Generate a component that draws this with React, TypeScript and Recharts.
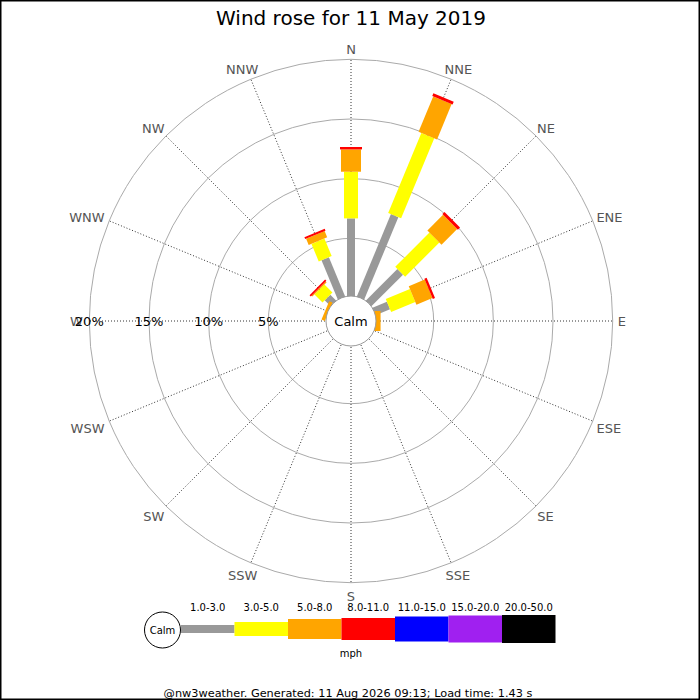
import { RadialBarChart, RadialBar, PolarAngleAxis, PolarRadiusAxis, PolarGrid } from 'recharts';

// wind directions, clockwise from north
const directions = ['N', 'NNE', 'NE', 'ENE', 'E', 'ESE', 'SE', 'SSE', 'S', 'SSW', 'SW', 'WSW', 'W', 'WNW', 'NW', 'NNW'];

// percent of the day in each speed band (mph), per direction
const band1to3 = [6.67, 7.63, 3.9, 1.47, 0, 0, 0, 0, 0, 0, 0, 0, 0, 0, 0.86, 3.72];
const band3to5 = [3.91, 7.26, 4.06, 2.19, 0, 0, 0, 0, 0, 0, 0, 0, 0, 0.1, 0.95, 1.59];
const band5to8 = [1.87, 3.2, 1.86, 1.45, 0.55, 0, 0, 0, 0, 0, 0, 0, 0, 0.3, 0.1, 0.57];
const band8to11 = [0.2, 0.25, 0.25, 0.2, 0, 0, 0, 0, 0, 0, 0, 0, 0, 0, 0.15, 0.17];

const speedBands = ['1.0-3.0', '3.0-5.0', '5.0-8.0', '8.0-11.0', '11.0-15.0', '15.0-20.0', '20.0-50.0'];
const percentTicks = [5, 10, 15, 20];

const bandColours = ['#999999', '#ffff00', '#ffa500', '#ff0000', '#0000ff', '#a020f0', '#000000'];
const bandWidths = [8, 14, 20, 22, 25, 27, 28];

const data = directions.map((dir, i) => ({
  dir,
  b1: band1to3[i],
  b2: band3to5[i],
  b3: band5to8[i],
  b4: band8to11[i],
}));

const CX = 351;
const CY = 321;
const FONT = '"DejaVu Sans", sans-serif';

// rough DejaVu Sans glyph widths (em) for the compass letters
const glyphEm: Record<string, number> = { N: 0.748, E: 0.632, S: 0.635, W: 0.989 };

// each stacked segment is drawn as a straight bar of fixed width.
// with no category gap the sector starts on the direction's tick angle
const barShape = (w: number) => (props: any) => {
  const { cx, cy, innerRadius, outerRadius, startAngle, fill } = props;
  if (!(outerRadius > innerRadius)) return <g />;
  const a = (startAngle * Math.PI) / 180;
  const ux = Math.cos(a);
  const uy = -Math.sin(a);
  const vx = -uy;
  const vy = ux;
  const h = w / 2;
  const pts = [
    [cx + ux * innerRadius + vx * h, cy + uy * innerRadius + vy * h],
    [cx + ux * outerRadius + vx * h, cy + uy * outerRadius + vy * h],
    [cx + ux * outerRadius - vx * h, cy + uy * outerRadius - vy * h],
    [cx + ux * innerRadius - vx * h, cy + uy * innerRadius - vy * h],
  ];
  return <polygon points={pts.map((p) => p.join(',')).join(' ')} fill={fill} />;
};

const DirTick = (props: any) => {
  const { x, y, payload } = props;
  const dx = x - CX;
  const dy = y - CY;
  const len = Math.sqrt(dx * dx + dy * dy) || 1;
  const label = String(payload.value);
  const w = label.split('').reduce((s, c) => s + (glyphEm[c] || 0.7) * 13, 0);
  const tx = x + (dx / len) * (w / 2 + (dx < -1 ? 1.5 : 0));
  const ty = y + (dy / len) * 5 + (dy > 1 ? 3.3 : 0);
  return (
    <text x={tx} y={ty + 4.5} textAnchor="middle" fontSize={13} fontFamily={FONT} fill="#555">
      {label}
    </text>
  );
};

const PctTick = (props: any) => {
  const { x, y, payload } = props;
  return (
    <text x={x} y={y + 5} textAnchor="middle" fontSize={13} fontFamily={FONT} fill="#000">
      {payload.value}%
    </text>
  );
};

export default function App() {
  const legendX = 181;
  const legendStep = 53.5;
  const legendY = 629;

  return (
    <div style={{ position: 'absolute', left: 0, top: 0, width: 700, height: 700, background: '#fff' }}>
      <RadialBarChart
        width={700}
        height={700}
        data={data}
        layout="centric"
        cx={CX}
        cy={CY}
        innerRadius={23}
        outerRadius={261.7}
        startAngle={90}
        endAngle={-270}
        margin={{ top: 0, right: 0, bottom: 0, left: 0 }}
        barCategoryGap={0}
      >
        <PolarGrid gridType="circle" radialLines={false} stroke="#aaaaaa" />
        <PolarGrid gridType="circle" polarRadius={[]} stroke="#333" strokeDasharray="1 2" />
        <PolarAngleAxis dataKey="dir" type="category" axisLine={false} tickLine={false} tickSize={5} tick={DirTick} />
        <PolarRadiusAxis
          type="number"
          angle={180}
          domain={[0, 20]}
          ticks={percentTicks}
          axisLine={false}
          tickLine={false}
          tick={PctTick}
        />
        <RadialBar dataKey="b1" stackId="a" fill={bandColours[0]} shape={barShape(bandWidths[0])} isAnimationActive={false} />
        <RadialBar dataKey="b2" stackId="a" fill={bandColours[1]} shape={barShape(bandWidths[1])} isAnimationActive={false} />
        <RadialBar dataKey="b3" stackId="a" fill={bandColours[2]} shape={barShape(bandWidths[2])} isAnimationActive={false} />
        <RadialBar dataKey="b4" stackId="a" fill={bandColours[3]} shape={barShape(bandWidths[3])} isAnimationActive={false} />
      </RadialBarChart>

      <svg width={700} height={700} style={{ position: 'absolute', left: 0, top: 0, pointerEvents: 'none' }}>
        <text x={351} y={25} textAnchor="middle" fontSize={20} fontFamily={FONT} fill="#000">
          Wind rose for 11 May 2019
        </text>

        <circle cx={CX} cy={CY} r={25} fill="#fff" stroke="#999" />
        <text x={CX} y={CY + 5} textAnchor="middle" fontSize={13} fontFamily={FONT} fill="#000">
          Calm
        </text>

        {speedBands.map((label, i) => (
          <g key={label}>
            <rect
              x={legendX + i * legendStep}
              y={legendY - bandWidths[i] / 2}
              width={legendStep}
              height={bandWidths[i]}
              fill={bandColours[i]}
            />
            <text
              x={legendX + i * legendStep + legendStep / 2}
              y={611}
              textAnchor="middle"
              fontSize={10}
              fontFamily={FONT}
              fill="#000"
            >
              {label}
            </text>
          </g>
        ))}
        <circle cx={162.5} cy={630} r={18} fill="#fff" stroke="#000" />
        <text x={162.5} y={633.5} textAnchor="middle" fontSize={10} fontFamily={FONT} fill="#000">
          Calm
        </text>
        <text x={351} y={657} textAnchor="middle" fontSize={10} fontFamily={FONT} fill="#000">
          mph
        </text>
        <text x={348} y={697} textAnchor="middle" fontSize={11.3} fontFamily={FONT} fill="#000">
          @nw3weather. Generated: 11 Aug 2026 09:13; Load time: 1.43 s
        </text>
        <rect x={0.5} y={0.5} width={699} height={699} fill="none" stroke="#000" strokeWidth={2} />
      </svg>
    </div>
  );
}
